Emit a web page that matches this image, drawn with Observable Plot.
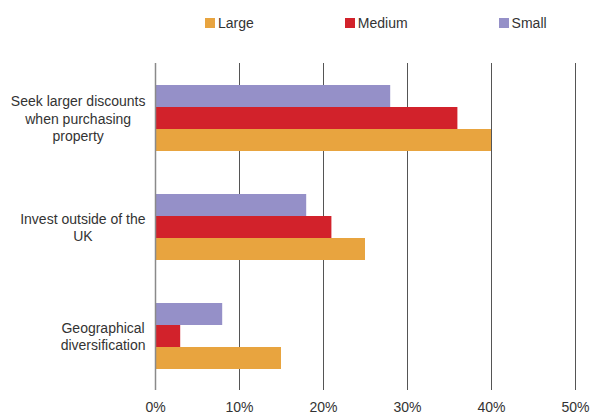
<!DOCTYPE html>
<html>
<head>
<meta charset="utf-8">
<script src="https://cdn.jsdelivr.net/npm/d3@7"></script>
<script src="https://cdn.jsdelivr.net/npm/@observablehq/plot@0.6"></script>
<style>
  body { margin: 0; background: #fff; font-family: "Liberation Sans", Arial, sans-serif; }
  #wrap { position: relative; width: 591px; height: 418px; }
  #legend { position: absolute; left: 205px; top: 15px; height: 16px; display: flex; align-items: center; gap: 91px; font-size: 14px; color: #333; }
  #legend .item { display: flex; align-items: center; gap: 3px; }
  #legend .sw { width: 10px; height: 10px; display: inline-block; }
  #chart { position: absolute; left: 0; top: 44px; }
</style>
</head>
<body>
<div id="wrap">
  <div id="legend"></div>
  <div id="chart"></div>
</div>
<script>
const categories = ["Seek larger discounts when purchasing property", "Invest outside of the UK", "Geographical diversification"];
const categoryLabels = ["Seek larger discounts\nwhen purchasing\nproperty", "Invest outside of the\nUK", "Geographical\ndiversification"];
const seriesNames = ["Large", "Medium", "Small"];
const seriesColors = ["#E8A43F", "#D2222B", "#9590C8"];
const large = [40, 25, 15];
const medium = [36, 21, 3];
const small = [28, 18, 8];
const xTicks = [0, 0.1, 0.2, 0.3, 0.4, 0.5];

const seriesValues = {Large: large, Medium: medium, Small: small};
const rows = [];
categories.forEach((c, i) => {
  seriesNames.forEach(s => rows.push({category: c, series: s, value: seriesValues[s][i] / 100}));
});
const labelOf = new Map(categories.map((c, i) => [c, categoryLabels[i]]));

// legend
const legend = document.getElementById("legend");
seriesNames.forEach((s, i) => {
  const it = document.createElement("div");
  it.className = "item";
  it.innerHTML = `<span class="sw" style="background:${seriesColors[i]}"></span><span>${s}</span>`;
  legend.appendChild(it);
});

const chart = Plot.plot({
  width: 591,
  height: 374,
  marginLeft: 155,
  marginRight: 16,
  marginTop: 18,
  marginBottom: 28,
  style: {fontFamily: "Liberation Sans, Arial, sans-serif", fontSize: "14px", color: "#333", background: "#fff"},
  x: {domain: [0, 0.5], ticks: xTicks, label: null},
  y: {domain: ["Small", "Medium", "Large"], paddingInner: 0, paddingOuter: 0.95, axis: null, label: null},
  fy: {domain: categories, padding: 0, label: null},
  color: {domain: seriesNames, range: seriesColors},
  marks: [
    Plot.gridX(xTicks, {stroke: "#555", strokeOpacity: 1, strokeWidth: 1}),
    Plot.barX(rows, {fy: "category", y: "series", x: "value", fill: "series"}),
    Plot.ruleX([0], {stroke: "#8a8a8a", strokeWidth: 1.5}),
    Plot.axisX(xTicks, {tickSize: 0, tickPadding: 12, label: null, tickFormat: d3.format(".0%"), fill: "#333", fontSize: 14}),
    Plot.axisFy({anchor: "left", tickSize: 0, tickPadding: 10, label: null, tickFormat: d => labelOf.get(d), lineHeight: 1.25, fill: "#333", fontSize: 14})
  ]
});
document.getElementById("chart").appendChild(chart);

// center lines of multi-line labels relative to each other while keeping the block right-aligned
chart.querySelectorAll('g[aria-label="fy-axis tick label"] text').forEach(t => {
  const spans = t.querySelectorAll("tspan");
  if (!spans.length) return;
  let w = 0;
  spans.forEach(s => { w = Math.max(w, s.getComputedTextLength()); });
  t.setAttribute("text-anchor", "middle");
  spans.forEach(s => s.setAttribute("x", -w / 2));
});
</script>
</body>
</html>
